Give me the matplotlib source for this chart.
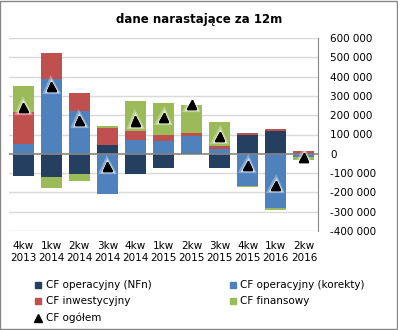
import numpy as np
import matplotlib.pyplot as plt
import matplotlib.patheffects as pe
from matplotlib.lines import Line2D
from matplotlib.patches import Rectangle

# data (PLN, trailing 12m)
quarters = ["4kw\n2013", "1kw\n2014", "2kw\n2014", "3kw\n2014", "4kw\n2014", "1kw\n2015",
            "2kw\n2015", "3kw\n2015", "4kw\n2015", "1kw\n2016", "2kw\n2016"]
cf_nfn = [-113000, -122000, -104000, 45000, -104000, -72000, 5000, -72000, 98000, 118000, 3000]
cf_korekty = [52000, 385000, 221000, -207000, 71000, 66000, 88000, 24000, -167000, -281000, -18000]
cf_inwest = [164000, 138000, 93000, 88000, 47000, 33000, 14000, 16000, 9000, 10000, 10000]
cf_finans = [135000, -54000, -36000, 10000, 155000, 164000, 145000, 124000, -5000, -9000, -12000]
cf_ogolem = [238000, 349000, 173000, -65000, 170000, 190000, 254000, 92000, -63000, -162000, -17000]

series = [
    ("CF operacyjny (NFn)", cf_nfn, "#243F60"),
    ("CF operacyjny (korekty)", cf_korekty, "#4F81BD"),
    ("CF inwestycyjny", cf_inwest, "#C0504D"),
    ("CF finansowy", cf_finans, "#9BBB59"),
]


def fmt(v):
    return f"{int(v):,}".replace(",", " ")


def main():
    fig = plt.figure(figsize=(3.98, 3.30), dpi=100)
    ax = fig.add_axes([9 / 398, 1 - 231 / 330, 309 / 398, 193 / 330])

    x = np.arange(len(quarters))
    pos_base = np.zeros(len(quarters))
    neg_base = np.zeros(len(quarters))
    for name, vals, color in series:
        v = np.array(vals, dtype=float)
        bottom = np.where(v >= 0, pos_base, neg_base)
        ax.bar(x, v, bottom=bottom, width=0.75, color=color, zorder=2)
        pos_base += np.where(v >= 0, v, 0)
        neg_base += np.where(v < 0, v, 0)

    # triangles with a soft white glow, like the Excel original
    ax.plot(x, cf_ogolem, linestyle="none", marker="^", ms=6.5, color="black", zorder=4,
            path_effects=[pe.withStroke(linewidth=4.5, foreground="white", alpha=0.3),
                          pe.withStroke(linewidth=2.5, foreground="white", alpha=0.6),
                          pe.Normal()])

    ax.set_xlim(-0.5, len(quarters) - 0.5)
    ax.set_ylim(-400000, 600000)
    yt = np.arange(-400000, 600001, 100000)
    ax.set_yticks(yt)
    ax.set_yticklabels([fmt(v) for v in yt])
    for lab, v in zip(ax.get_yticklabels(), yt):
        lab.set_color("red" if v < 0 else "black")
    ax.yaxis.tick_right()
    ax.tick_params(axis="y", length=0, pad=9, labelsize=7.5)
    ax.set_xticks(x)
    ax.set_xticklabels(quarters, linespacing=1.3)
    ax.tick_params(axis="x", length=0, pad=7, labelsize=7.5)

    for v in yt:
        if v != 0:
            ax.axhline(v, color="#D9D9D9", lw=1, zorder=1)
    ax.axhline(0, color="#868686", lw=1.2, zorder=3)

    for s in ["top", "left", "bottom"]:
        ax.spines[s].set_visible(False)
    ax.spines["right"].set_color("#868686")

    fig.text(0.5, 1 - 20 / 330, "dane narastające za 12m", ha="center", va="center",
             fontsize=8.5, fontweight="bold")

    handles = [Line2D([], [], linestyle="none", marker="s", ms=5, color=c) for _, _, c in series]
    handles.append(Line2D([], [], linestyle="none", marker="^", ms=6, color="black"))
    labels = [n for n, _, _ in series] + ["CF ogółem"]
    order = [0, 2, 4, 1, 3]
    fig.legend([handles[i] for i in order], [labels[i] for i in order], ncol=2,
               loc="upper left", bbox_to_anchor=(30 / 398, 1 - 275 / 330), frameon=False,
               fontsize=7.5, handlelength=0.6, handletextpad=0.4, columnspacing=7.5,
               labelspacing=0.6, borderpad=0)

    fig.patches.append(Rectangle((0.001, 0.002), 0.997, 0.996, transform=fig.transFigure,
                                 fill=False, edgecolor="#868686", lw=1))

    fig.savefig("out.png", dpi=100)


if __name__ == "__main__":
    main()
